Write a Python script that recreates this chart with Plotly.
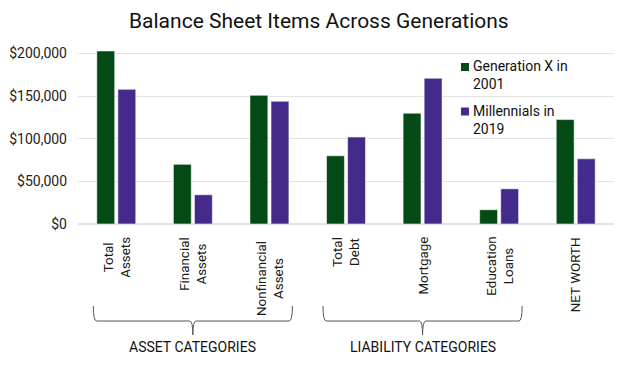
import plotly.graph_objects as go

categories = ["Total<br>Assets", "Financial<br>Assets", "Nonfinancial<br>Assets",
              "Total<br>Debt", "Mortgage", "Education<br>Loans", "NET WORTH"]
genx_2001 = [203000, 70000, 151000, 80000, 130000, 16700, 122500]
millennials_2019 = [158000, 34300, 144000, 102000, 171000, 41300, 76500]
series_names = ["Generation X in<br>2001", "Millennials in<br>2019"]
y_ticks = [0, 50000, 100000, 150000, 200000]
y_ticklabels = ["$0", "$50,000", "$100,000", "$150,000", "$200,000"]
groups = [("ASSET CATEGORIES", 0, 2), ("LIABILITY CATEGORIES", 3, 5)]

GREEN = "#034a14"
PURPLE = "#442a8a"
COLORS = [GREEN, PURPLE]
FONT = "Roboto"

W, H = 624, 372
ML, MR, MT, MB = 78, 10, 45, 148
plot_h = H - MT - MB

fig = go.Figure()
for name, vals, col in zip(series_names, [genx_2001, millennials_2019], COLORS):
    fig.add_trace(go.Bar(x=categories, y=vals, name=name, showlegend=False,
                         marker=dict(color=col, line=dict(color="rgba(255,255,255,0.55)", width=1))))

n = len(categories)
def px(idx):
    return (idx + 0.5) / n

def py(pixel_y):
    # pixel y from top of page -> paper y
    return (H - MB - pixel_y) / plot_h

# category labels (rotated, lines centered)
label_extra_shift = {2: 4}
for i, c in enumerate(categories):
    fig.add_annotation(text=c, x=c, xref="x", y=0, yref="paper",
                       yshift=-11 - label_extra_shift.get(i, 0),
                       xanchor="center", yanchor="top", textangle=-90, align="center",
                       showarrow=False, font=dict(family=FONT, size=13.4, color="#1a1a1a"))

# brackets
y_top, y_mid, y_bot = py(306), py(321), py(335)
for label, i0, i1 in groups:
    x0 = px(i0 - 0.3)
    x1 = px(i1 + 0.3)
    xc = (x0 + x1) / 2
    d = 0.006
    path = (f"M {x0},{y_top} Q {x0},{y_mid} {x0+d},{y_mid} "
            f"L {xc-d},{y_mid} Q {xc},{y_mid} {xc},{y_bot} "
            f"Q {xc},{y_mid} {xc+d},{y_mid} "
            f"L {x1-d},{y_mid} Q {x1},{y_mid} {x1},{y_top}")
    fig.add_shape(type="path", path=path, xref="paper", yref="paper",
                  line=dict(color="#555555", width=1))
    fig.add_annotation(text=label, x=xc, y=py(347), xref="paper", yref="paper",
                       showarrow=False, xanchor="center", yanchor="middle",
                       font=dict(family=FONT, size=14, color="#111111"))

# legend (manual: small squares + text)
leg_x_sq = (461 - ML) / (W - ML - MR)
leg_x_txt = (471 - ML) / (W - ML - MR)
sq_w = 8 / (W - ML - MR)
for i, (name, col) in enumerate(zip(series_names, COLORS)):
    top = 63 + i * 44.5
    fig.add_shape(type="rect", xref="paper", yref="paper",
                  x0=leg_x_sq, x1=leg_x_sq + sq_w, y0=py(top), y1=py(top + 8),
                  fillcolor=col, line=dict(width=0))
    fig.add_annotation(text=name, x=leg_x_txt, y=py(top - 7), xref="paper", yref="paper",
                       xanchor="left", yanchor="top", align="left", showarrow=False,
                       font=dict(family=FONT, size=14, color="#111111"))

fig.update_layout(
    width=W, height=H,
    margin=dict(l=ML, r=MR, t=MT, b=MB),
    paper_bgcolor="white", plot_bgcolor="white",
    font=dict(family=FONT, size=14, color="#222222"),
    title=dict(text="Balance Sheet Items Across Generations", x=0.511, xanchor="center",
               y=0.944, yanchor="middle", font=dict(family=FONT, size=21, color="#111111")),
    barmode="group", bargap=0.45, bargroupgap=0.15,
    showlegend=False,
    xaxis=dict(showticklabels=False, showgrid=False, showline=False, ticks="", automargin=False),
    yaxis=dict(range=[0, 210000], tickvals=y_ticks, ticktext=y_ticklabels, automargin=False,
               ticklabelstandoff=10,
               showgrid=True, gridcolor="#e3e3e3", zeroline=True, zerolinecolor="#e3e3e3",
               showline=False, ticks="", tickfont=dict(family=FONT, size=14, color="#222222")),
)

fig.write_html("out.html", config={"displayModeBar": False},
               post_script="document.body.style.margin='0';")
